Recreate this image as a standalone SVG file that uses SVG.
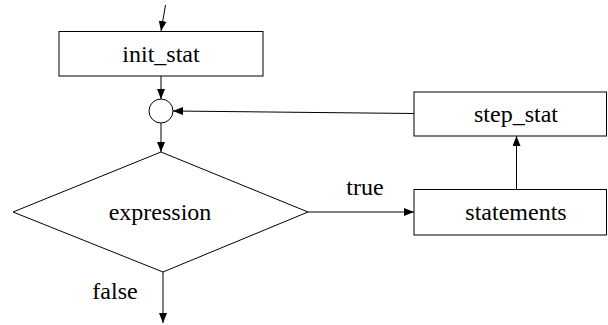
<svg xmlns="http://www.w3.org/2000/svg" width="608" height="325" viewBox="0 0 608 325">
<style>
.box{fill:#fff;stroke:#000;stroke-width:1}
.ln{fill:none;stroke:#000;stroke-width:1}
</style>
<defs>
<marker id="ah" viewBox="0 0 10 8" refX="10" refY="4" markerWidth="10" markerHeight="8" markerUnits="userSpaceOnUse" orient="auto">
<path d="M0,0 L10,4 L0,8 Z" fill="#000"/>
</marker>
</defs>
<g font-family="'Liberation Serif', 'Times New Roman', Times, serif" font-size="24" fill="#000" text-anchor="middle">
<g id="connectors">
<path class="ln" d="M165.5,5 L161,31" marker-end="url(#ah)"/>
<path class="ln" d="M161,76 L161,99" marker-end="url(#ah)"/>
<path class="ln" d="M161,123 L161,152" marker-end="url(#ah)"/>
<path class="ln" d="M414,113.5 L173,111" marker-end="url(#ah)"/>
<path class="ln" d="M308,212 L414,212" marker-end="url(#ah)"/>
<path class="ln" d="M516.5,189 L516.5,136" marker-end="url(#ah)"/>
<path class="ln" d="M163,272 L163,323" marker-end="url(#ah)"/>
<text x="365" y="195">true</text>
<text x="115" y="299">false</text>
</g>
<g id="init_stat">
<rect class="box" x="59" y="31.5" width="204" height="44.5"/>
<text x="161" y="62">init_stat</text>
</g>
<g id="junction">
<circle class="box" cx="161" cy="111" r="12"/>
</g>
<g id="expression">
<polygon class="box" points="161,152 308,212 163,272 13,212"/>
<text x="160" y="220">expression</text>
</g>
<g id="step_stat">
<rect class="box" x="414" y="92" width="192.5" height="44"/>
<text x="516" y="122">step_stat</text>
</g>
<g id="statements">
<rect class="box" x="414" y="189.5" width="192.5" height="45.5"/>
<text x="516" y="220">statements</text>
</g>
</g>
</svg>
